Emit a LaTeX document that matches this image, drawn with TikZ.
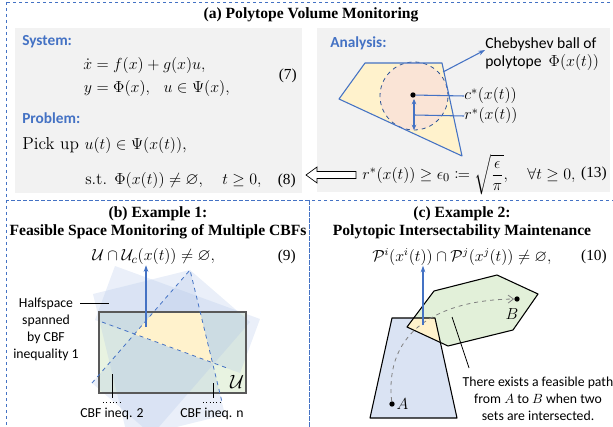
\documentclass[tikz,border=0pt]{standalone}
\usepackage{amsmath,amssymb,mathtools}
\usepackage{fontspec}
\newfontfamily\titlefont{Liberation Serif}
\newfontfamily\labelfont{Carlito}
\usetikzlibrary{arrows.meta}

\definecolor{accblue}{RGB}{68,114,196}
\definecolor{darkblue}{RGB}{47,85,151}
\definecolor{boxgray}{RGB}{242,242,242}
\definecolor{paleyellow}{RGB}{255,242,204}
\definecolor{peach}{RGB}{250,228,214}
\definecolor{palegreen}{RGB}{226,240,217}
\definecolor{paleblue}{RGB}{218,227,243}
\definecolor{halfblue}{RGB}{170,192,230}
\definecolor{rectgray}{RGB}{89,89,89}

\tikzset{
  panelbox/.style={accblue, dash pattern=on 2.5pt off 2pt, line width=0.6pt},
  grayback/.style={fill=boxgray, draw=none},
  paneltitle/.style={font=\titlefont\bfseries\fontsize{11.7}{13.5}\selectfont, align=center, inner sep=0},
  headlabel/.style={font=\labelfont\bfseries\fontsize{11.5}{13}\selectfont, text=accblue, anchor=west, inner sep=0},
  note/.style={font=\labelfont\fontsize{10.3}{12.75}\selectfont, align=center, inner sep=0},
  eqn/.style={font=\fontsize{12.5}{14.5}\selectfont, inner sep=0},
  eqnum/.style={font=\titlefont\fontsize{11.5}{13}\selectfont, inner sep=0},
  bluearrow/.style={accblue, line width=0.9pt, -{Stealth[length=5pt,width=3.5pt]}},
  bluelink/.style={accblue, line width=0.8pt},
  leader/.style={black, line width=0.6pt},
  halfspace/.style={fill=halfblue, fill opacity=0.25, draw=none},
  cbfedge/.style={accblue, dashed, line width=0.6pt},
  dot/.style={circle, fill=black, inner sep=0, minimum size=4pt},
  setline/.style={black, line width=0.8pt, line join=round}
}

\begin{document}
\begin{tikzpicture}[x=0.75pt,y=-0.75pt]
\useasboundingbox (0,0) rectangle (613,427);

% panel frames
\draw[panelbox] (6,2) rectangle (620,200);
\draw[panelbox] (6,200) rectangle (309,432);
\draw[panelbox] (309,200) rectangle (620,432);

% ---------------- (a) ----------------
\node[paneltitle] (titleA) at (311,15) {(a) Polytope Volume Monitoring};
\fill[grayback] (15,28) rectangle (302,193);
\fill[grayback] (317,28) rectangle (610,192);

\node[headlabel] (system) at (22,42) {System:};
\node[eqn, anchor=west] (sysEq) at (83,77) {$\begin{aligned}
  \dot{x} &= f(x)+g(x)u,\\
  y &= \Phi(x),\ \ u\in\Psi(x),
\end{aligned}$};
\node[eqnum, anchor=east] (num7) at (297,76) {(7)};

\node[headlabel] (problem) at (22,118) {Problem:};
\node[eqn, font=\fontsize{13}{15}\selectfont, anchor=west] (pickUp) at (22,145)
  {Pick up $u(t)\in\Psi(x(t))$,};
\node[eqn, anchor=west] (subjTo) at (85,181)
  {s.t. $\Phi(x(t))\neq\varnothing,\quad t\geq 0,$};
\node[eqnum, anchor=east] (num8) at (296,181) {(8)};

% implication arrow
\draw[black, line width=0.5pt, fill=white]
  (306,175) -- (317,167) -- (317,171.5) -- (356,171.5) -- (356,178.5)
  -- (317,178.5) -- (317,183) -- cycle;

\node[headlabel] (analysis) at (330,43) {Analysis:};

% polytope and Chebyshev ball
\coordinate (p1) at (365,63);
\coordinate (p2) at (442,63);
\coordinate (p3) at (462,156);
\coordinate (p4) at (339,99);
\fill[paleyellow] (p1) -- (p2) -- (p3) -- (p4) -- cycle;
\fill[peach] (414,96) circle[radius=25.5pt];
\draw[darkblue, dashed, line width=0.6pt] (414,96) circle[radius=25.5pt];
\draw[accblue, line width=0.8pt, line join=round] (p1) -- (p2) -- (p3) -- (p4) -- cycle;

\node[dot] (center) at (413,95) {};
\node[eqn, anchor=west] (cLabel) at (464,96) {$c^{*}(x(t))$};
\node[eqn, anchor=west] (rLabel) at (464,116) {$r^{*}(x(t))$};
\coordinate (rFoot) at (414,115);
\coordinate (ballTop) at (414,99);
\coordinate (ballBottom) at (414,130);
\draw[bluelink] (center) -- (cLabel.west);
\draw[bluelink] (rFoot) -- (rLabel.west);
\draw[accblue, line width=0.8pt, {Stealth[length=4pt,width=3.5pt]}-{Stealth[length=4pt,width=3.5pt]}] (ballTop) -- (ballBottom);

\node[note, font=\labelfont\fontsize{11.7}{13.5}\selectfont, align=left, anchor=west] (chebNote) at (485,54)
  {Chebyshev ball of\\polytope\ \ $\Phi(x(t))$};
\coordinate (edgePoint) at (443,72);
\draw[bluelink, -{Stealth[length=5pt,width=3.5pt]}] (edgePoint) -- (chebNote.west |- 0,50);

\node[eqn, anchor=west] (volEq) at (362,175)
  {$r^{*}(x(t))\geq\epsilon_0\coloneqq\sqrt{\dfrac{\epsilon}{\pi}},\quad\forall t\geq 0,$};
\node[eqnum, anchor=east] (num13) at (607,174) {(13)};

% ---------------- (b) ----------------
\node[paneltitle] (titleB) at (158,223) {(b) Example 1:\\Feasible Space Monitoring of Multiple CBFs};
\node[eqn, anchor=west] (feasEq) at (92,257)
  {$\mathcal{U}\cap\mathcal{U}_c(x(t))\neq\varnothing,$};
\node[eqnum, anchor=east] (num9) at (296,257) {(9)};

\fill[palegreen!80!white] (99,312) rectangle (246,393);
% halfspaces of the CBF inequalities
\fill[halfspace] (95,320) -- (240,373) -- (260,319) -- (115,266) -- cycle;
\fill[halfspace] (92,383) -- (190,270) -- (250,322) -- (152,435) -- cycle;
\fill[halfspace] (190,270) -- (225,415) -- (128,439) -- (93,294) -- cycle;
\begin{scope}
  \clip (95,320) -- (240,373) -- (260,319) -- (115,266) -- cycle;
  \clip (92,383) -- (190,270) -- (250,322) -- (152,435) -- cycle;
  \clip (190,270) -- (225,415) -- (128,439) -- (93,294) -- cycle;
  \fill[paleyellow] (99,312) rectangle (246,393);
\end{scope}
\draw[rectgray, line width=0.9pt] (99,312) rectangle (246,393);
\draw[cbfedge] (92,383) -- (190,270) -- (222,402);
\draw[cbfedge] (102,322) -- (227,368);

\node[font=\fontsize{14}{16}\selectfont, inner sep=0] (setU) at (237,382) {$\mathcal{U}$};
\coordinate (feasBase) at (146,327);
\draw[bluearrow] (feasBase) -- (feasEq.south -| feasBase);

\node[note] (hsLabel) at (46,329) {Halfspace\\spanned\\by CBF\\inequality 1};
\coordinate (hsTail) at (80,303);
\coordinate (hsTip) at (109,303);
\draw[leader] (hsTail) -- (hsTip);

\node[note] (ineqTwo) at (112,414) {CBF ineq. 2};
\node[note] (ineqN) at (212,414) {CBF ineq. n};
\coordinate (twoTop) at (112,374);
\coordinate (nTop) at (213,383);
\draw[leader] (twoTop) -- (twoTop |- 0,398);
\draw[leader] (nTop) -- (nTop |- 0,398);
\draw[black, line width=0.5pt, dotted] (103,402) -- (121,402);
\draw[black, line width=0.5pt, dotted] (203,402) -- (222,402);

% ---------------- (c) ----------------
\node[paneltitle] (titleC) at (462,223) {(c) Example 2:\\Polytopic Intersectability Maintenance};
\node[eqn, font=\fontsize{12}{14}\selectfont, anchor=west] (interEq) at (372,257)
  {$\mathcal{P}^i(x^i(t))\cap\mathcal{P}^j(x^j(t))\neq\varnothing,$};
\node[eqnum, anchor=east] (num10) at (607,257) {(10)};

\coordinate (t1) at (392,318);
\coordinate (t2) at (435,318);
\coordinate (t3) at (457,418);
\coordinate (t4) at (370,418);
\coordinate (h1) at (407,327);
\coordinate (h2) at (434,291);
\coordinate (h3) at (497,275);
\coordinate (h4) at (538,294);
\coordinate (h5) at (513,330);
\coordinate (h6) at (448,346);
\fill[paleblue] (t1) -- (t2) -- (t3) -- (t4) -- cycle;
\fill[palegreen] (h1) -- (h2) -- (h3) -- (h4) -- (h5) -- (h6) -- cycle;
\begin{scope}
  \clip (t1) -- (t2) -- (t3) -- (t4) -- cycle;
  \fill[paleyellow] (h1) -- (h2) -- (h3) -- (h4) -- (h5) -- (h6) -- cycle;
\end{scope}
\draw[setline] (t1) -- (t2) -- (t3) -- (t4) -- cycle;
\draw[setline] (h1) -- (h2) -- (h3) -- (h4) -- (h5) -- (h6) -- cycle;

\node[dot] (ptA) at (392,404) {};
\node[dot] (ptB) at (517,299) {};
\node[font=\fontsize{13}{15}\selectfont, anchor=west, inner sep=1pt] (labA) at (ptA.east) {$A$};
\node[font=\fontsize{13}{15}\selectfont, inner sep=0] (labB) at (512,314) {$B$};
\draw[gray, dashed, line width=0.6pt, -{Straight Barb[length=4pt,width=6pt]}]
  (ptA) .. controls (384,330) and (440,300) .. (ptB.west);

\coordinate (overlap) at (423,325);
\draw[bluearrow] (overlap) -- (interEq.south -| overlap);

\node[note] (pathNote) at (538,399)
  {There exists a feasible path\\from $A$ to $B$ when two\\sets are intersected.};
\coordinate (noteTip) at (452,317);
\coordinate (noteTail) at (469,368);
\draw[leader] (noteTail) -- (noteTip);
\end{tikzpicture}
\end{document}
